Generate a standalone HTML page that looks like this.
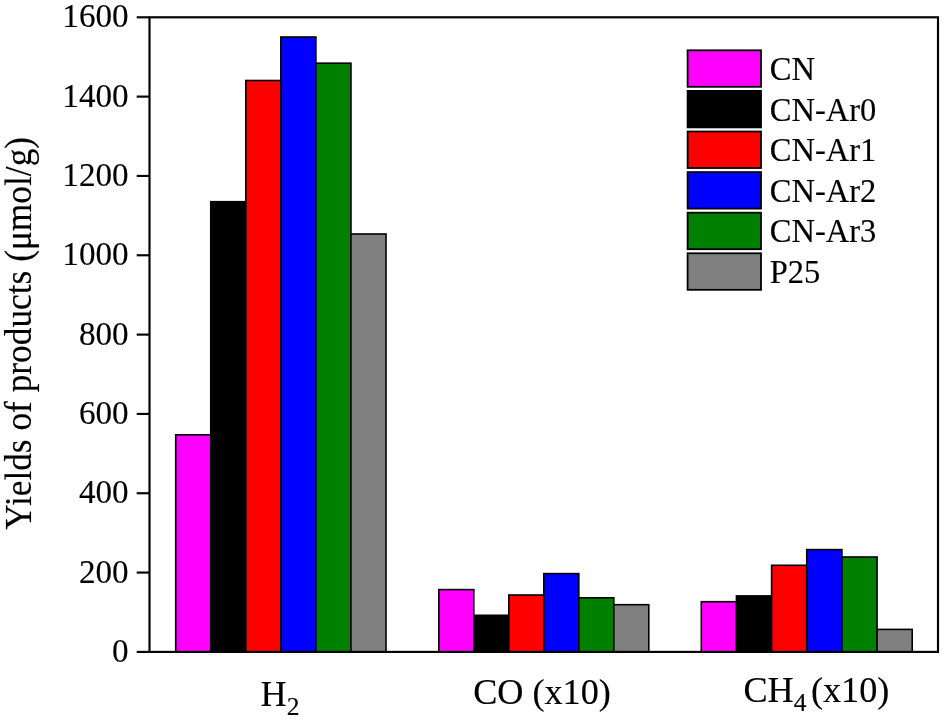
<!DOCTYPE html>
<html><head><meta charset="utf-8"><title>Yields of products</title>
<style>
html,body{margin:0;padding:0;background:#fff;}
body{width:944px;height:722px;overflow:hidden;}
svg{display:block}
text{font-family:"Liberation Serif","Times New Roman",serif;fill:#000;stroke:#000;stroke-width:0.15px;}
</style></head><body>
<svg width="944" height="722" viewBox="0 0 944 722">
<rect width="944" height="722" fill="#fff"/>
<rect x="175.70" y="434.80" width="35.05" height="217.10" fill="#ff00ff" stroke="#000" stroke-width="1.6"/>
<rect x="210.75" y="201.70" width="35.05" height="450.20" fill="#000000" stroke="#000" stroke-width="1.6"/>
<rect x="245.80" y="80.50" width="35.05" height="571.40" fill="#ff0000" stroke="#000" stroke-width="1.6"/>
<rect x="280.85" y="37.00" width="35.05" height="614.90" fill="#0000ff" stroke="#000" stroke-width="1.6"/>
<rect x="315.90" y="63.20" width="35.05" height="588.70" fill="#008000" stroke="#000" stroke-width="1.6"/>
<rect x="350.95" y="234.00" width="35.05" height="417.90" fill="#808080" stroke="#000" stroke-width="1.6"/>
<rect x="438.80" y="589.60" width="35.00" height="62.30" fill="#ff00ff" stroke="#000" stroke-width="1.6"/>
<rect x="473.80" y="615.30" width="35.00" height="36.60" fill="#000000" stroke="#000" stroke-width="1.6"/>
<rect x="508.80" y="595.00" width="35.00" height="56.90" fill="#ff0000" stroke="#000" stroke-width="1.6"/>
<rect x="543.80" y="573.60" width="35.00" height="78.30" fill="#0000ff" stroke="#000" stroke-width="1.6"/>
<rect x="578.80" y="597.80" width="35.00" height="54.10" fill="#008000" stroke="#000" stroke-width="1.6"/>
<rect x="613.80" y="604.70" width="35.00" height="47.20" fill="#808080" stroke="#000" stroke-width="1.6"/>
<rect x="701.30" y="601.70" width="35.15" height="50.20" fill="#ff00ff" stroke="#000" stroke-width="1.6"/>
<rect x="736.45" y="595.90" width="35.15" height="56.00" fill="#000000" stroke="#000" stroke-width="1.6"/>
<rect x="771.60" y="565.30" width="35.15" height="86.60" fill="#ff0000" stroke="#000" stroke-width="1.6"/>
<rect x="806.75" y="549.60" width="35.15" height="102.30" fill="#0000ff" stroke="#000" stroke-width="1.6"/>
<rect x="841.90" y="557.00" width="35.15" height="94.90" fill="#008000" stroke="#000" stroke-width="1.6"/>
<rect x="877.05" y="629.40" width="35.15" height="22.50" fill="#808080" stroke="#000" stroke-width="1.6"/>
<rect x="149.5" y="17.3" width="788.5" height="634.6" fill="none" stroke="#000" stroke-width="2.15"/>
<line x1="136.7" y1="651.90" x2="149.5" y2="651.90" stroke="#000" stroke-width="2.15"/>
<text transform="translate(128.60,661.90) scale(0.958,1)" font-size="34.6" text-anchor="end">0</text>
<line x1="136.7" y1="572.57" x2="149.5" y2="572.57" stroke="#000" stroke-width="2.15"/>
<text transform="translate(128.60,582.57) scale(0.958,1)" font-size="34.6" text-anchor="end">200</text>
<line x1="136.7" y1="493.25" x2="149.5" y2="493.25" stroke="#000" stroke-width="2.15"/>
<text transform="translate(128.60,503.25) scale(0.958,1)" font-size="34.6" text-anchor="end">400</text>
<line x1="136.7" y1="413.92" x2="149.5" y2="413.92" stroke="#000" stroke-width="2.15"/>
<text transform="translate(128.60,423.92) scale(0.958,1)" font-size="34.6" text-anchor="end">600</text>
<line x1="136.7" y1="334.60" x2="149.5" y2="334.60" stroke="#000" stroke-width="2.15"/>
<text transform="translate(128.60,344.60) scale(0.958,1)" font-size="34.6" text-anchor="end">800</text>
<line x1="136.7" y1="255.27" x2="149.5" y2="255.27" stroke="#000" stroke-width="2.15"/>
<text transform="translate(128.60,265.27) scale(0.958,1)" font-size="34.6" text-anchor="end">1000</text>
<line x1="136.7" y1="175.95" x2="149.5" y2="175.95" stroke="#000" stroke-width="2.15"/>
<text transform="translate(128.60,185.95) scale(0.958,1)" font-size="34.6" text-anchor="end">1200</text>
<line x1="136.7" y1="96.62" x2="149.5" y2="96.62" stroke="#000" stroke-width="2.15"/>
<text transform="translate(128.60,106.62) scale(0.958,1)" font-size="34.6" text-anchor="end">1400</text>
<line x1="136.7" y1="17.30" x2="149.5" y2="17.30" stroke="#000" stroke-width="2.15"/>
<text transform="translate(128.60,27.30) scale(0.958,1)" font-size="34.6" text-anchor="end">1600</text>
<text transform="translate(30.50,333.30) rotate(-90) scale(0.95,1)" font-size="37.2" text-anchor="middle">Yields of products (μmol/g)</text>
<text transform="translate(280.00,706.40)" font-size="36.2" text-anchor="middle">H<tspan font-size="25.5" dy="9">2</tspan></text>
<text transform="translate(542.00,703.60)" font-size="36.2" text-anchor="middle">CO (x10)</text>
<text transform="translate(743.40,701.80)" font-size="36.2" text-anchor="start">CH<tspan font-size="25.5" dy="9">4</tspan><tspan dy="-9" dx="-4.5"> (x10)</tspan></text>
<rect x="687.6" y="50.30" width="73.4" height="36.5" fill="#ff00ff" stroke="#000" stroke-width="1.8"/>
<text transform="translate(769.70,79.90) scale(0.98,1)" font-size="33.2" text-anchor="start">CN</text>
<rect x="687.6" y="90.90" width="73.4" height="36.5" fill="#000000" stroke="#000" stroke-width="1.8"/>
<text transform="translate(769.70,120.50) scale(0.98,1)" font-size="33.2" text-anchor="start">CN-Ar0</text>
<rect x="687.6" y="131.50" width="73.4" height="36.5" fill="#ff0000" stroke="#000" stroke-width="1.8"/>
<text transform="translate(769.70,161.10) scale(0.98,1)" font-size="33.2" text-anchor="start">CN-Ar1</text>
<rect x="687.6" y="172.10" width="73.4" height="36.5" fill="#0000ff" stroke="#000" stroke-width="1.8"/>
<text transform="translate(769.70,201.70) scale(0.98,1)" font-size="33.2" text-anchor="start">CN-Ar2</text>
<rect x="687.6" y="212.70" width="73.4" height="36.5" fill="#008000" stroke="#000" stroke-width="1.8"/>
<text transform="translate(769.70,242.30) scale(0.98,1)" font-size="33.2" text-anchor="start">CN-Ar3</text>
<rect x="687.6" y="253.30" width="73.4" height="36.5" fill="#808080" stroke="#000" stroke-width="1.8"/>
<text transform="translate(769.70,282.90) scale(0.98,1)" font-size="33.2" text-anchor="start">P25</text>
</svg></body></html>
